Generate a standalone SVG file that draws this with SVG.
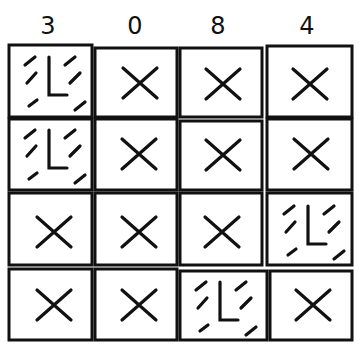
<svg xmlns="http://www.w3.org/2000/svg" width="361" height="349" viewBox="0 0 361 349">
<style>
.cell{fill:none;stroke:#111;stroke-width:3}
.sym{stroke:#111;stroke-width:3.2;fill:none;stroke-linecap:round}
.num{font-family:"DejaVu Sans",sans-serif;font-size:24px;fill:#111;text-anchor:middle}
</style>
<defs>
<g id="x" class="sym"><path d="M-17,-15 L17,15 M-17,15 L17,-15"/></g>
<g id="l" class="sym"><path d="M-1,-23 V15 H17"/><path d="M-25,-15 L-15,-23 M-23,3 L-14,-7 M-21,26 L-13,20 M15,-15 L25,-23 M20,3 L30,-7 M25,30 L35,22"/></g>
</defs>
<rect width="361" height="349" fill="#fff"/>
<g id="labels">
<text class="num" x="48" y="34">3</text>
<text class="num" x="135" y="34">0</text>
<text class="num" x="218" y="34">8</text>
<text class="num" x="307" y="34">4</text>
</g>
<g id="r1c1"><rect class="cell" x="9" y="45" width="83" height="72"/><use href="#l" x="50" y="80"/></g>
<g id="r1c2"><rect class="cell" x="95" y="48" width="82" height="69"/><use href="#x" x="140" y="83"/></g>
<g id="r1c3"><rect class="cell" x="180" y="48" width="82" height="69"/><use href="#x" x="223" y="84"/></g>
<g id="r1c4"><rect class="cell" x="267" y="46" width="85" height="71"/><use href="#x" x="310" y="84"/></g>
<g id="r2c1"><rect class="cell" x="9" y="119" width="83" height="71"/><use href="#l" x="50" y="153"/></g>
<g id="r2c2"><rect class="cell" x="95" y="119" width="82" height="71"/><use href="#x" x="139" y="154"/></g>
<g id="r2c3"><rect class="cell" x="180" y="121" width="82" height="69"/><use href="#x" x="223" y="155"/></g>
<g id="r2c4"><rect class="cell" x="267" y="119" width="85" height="71"/><use href="#x" x="311" y="154"/></g>
<g id="r3c1"><rect class="cell" x="9" y="193" width="83" height="72"/><use href="#x" x="54" y="232"/></g>
<g id="r3c2"><rect class="cell" x="95" y="193" width="82" height="72"/><use href="#x" x="139" y="232"/></g>
<g id="r3c3"><rect class="cell" x="180" y="193" width="82" height="72"/><use href="#x" x="222" y="232"/></g>
<g id="r3c4"><rect class="cell" x="267" y="193" width="85" height="72"/><use href="#l" x="309" y="229"/></g>
<g id="r4c1"><rect class="cell" x="9" y="269" width="83" height="71"/><use href="#x" x="54" y="305"/></g>
<g id="r4c2"><rect class="cell" x="95" y="269" width="82" height="71"/><use href="#x" x="139" y="305"/></g>
<g id="r4c3"><rect class="cell" x="180" y="271" width="87" height="69"/><use href="#l" x="221" y="305"/></g>
<g id="r4c4"><rect class="cell" x="270" y="271" width="82" height="69"/><use href="#x" x="313" y="305"/></g>
</svg>
